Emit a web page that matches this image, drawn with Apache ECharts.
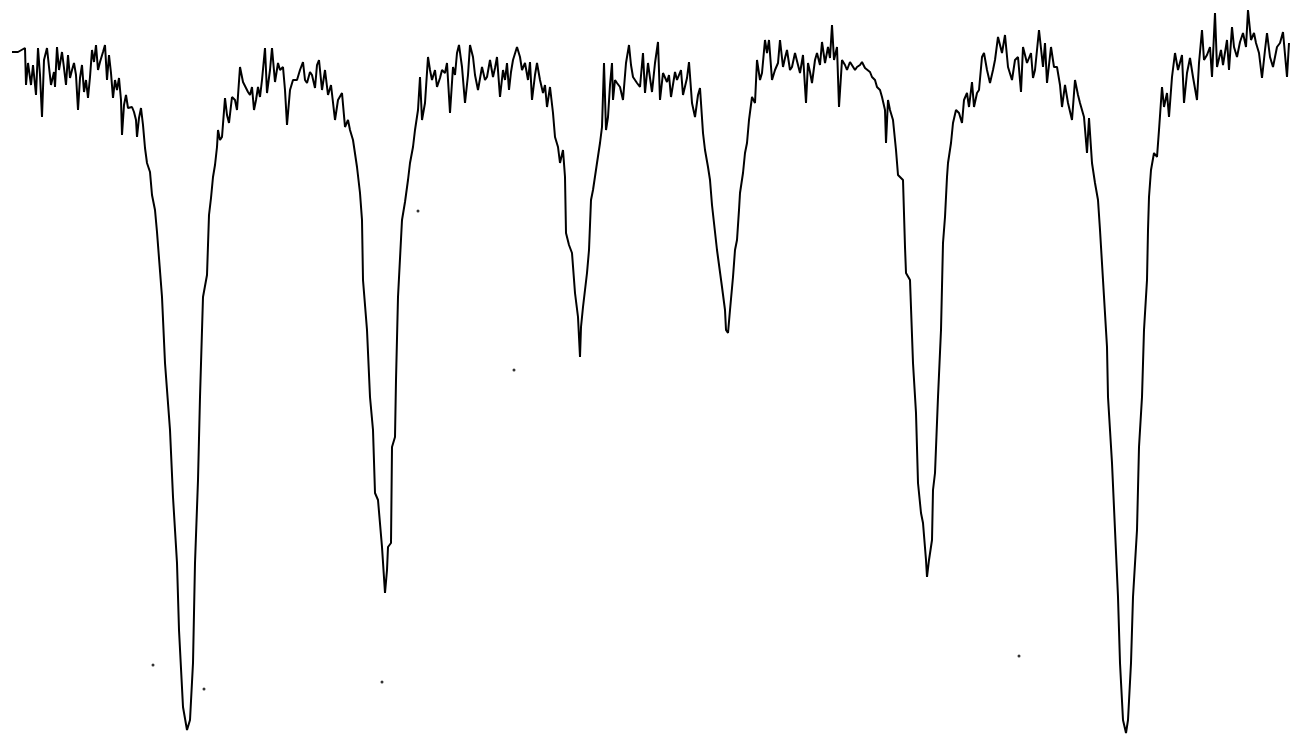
<!DOCTYPE html>
<html>
<head>
<meta charset="utf-8">
<script src="https://cdn.jsdelivr.net/npm/echarts@6/dist/echarts.min.js"></script>
<style>html,body{margin:0;padding:0;background:#fff;}#c{width:1290px;height:738px;}</style>
</head>
<body>
<div id="c"></div>
<script>
// Mössbauer-type sextet spectrum: channel vs absorption (larger = deeper)
const channel = [12,18,25,26,28,31,33,36,38,40,42,44,47,49,51,54,55,57,59,62,64,66,68,70,72,74,76,78,80,82,84,86,88,90,92,94,96,98,100,103,105,107,109,111,113,115,117,119,121,122,124,126,128,130,132,134,136,137,139,141,143,145,147,149,150,152,155,157,162,165,170,173,177,179,183,187,190,193,195,198,200,203,207,209,211,213,215,217,218,220,222,225,227,229,232,235,237,240,243,246,248,250,252,254,256,258,260,262,265,267,270,272,275,278,280,283,285,287,290,293,297,300,303,305,307,310,312,315,317,319,322,325,328,331,333,335,338,342,345,348,350,353,357,360,362,363,367,370,373,375,378,382,385,387,388,391,392,395,396,398,402,405,408,410,413,415,418,420,422,425,428,430,432,435,437,440,442,445,447,450,453,455,457,459,462,465,468,470,473,475,478,482,485,487,490,493,495,497,500,503,505,507,509,511,513,517,520,522,525,528,530,532,535,537,540,543,545,547,550,553,555,558,560,563,565,566,569,572,575,578,580,581,583,587,589,591,593,597,600,602,604,606,608,610,612,613,615,617,620,623,626,629,631,633,637,640,643,645,648,650,652,655,658,660,663,667,669,671,675,677,679,681,683,687,689,692,695,698,700,703,705,708,710,712,717,722,725,726,728,730,733,735,737,739,740,743,745,747,749,752,755,757,760,762,765,767,769,772,775,778,780,783,785,787,790,792,795,798,800,803,806,808,810,812,815,817,820,822,825,828,830,832,834,837,839,842,845,847,850,852,855,857,860,862,865,867,870,872,875,877,880,882,885,886,888,890,893,896,898,903,905,906,910,913,916,918,921,923,926,927,929,932,933,935,938,941,943,945,947,948,951,953,956,959,962,964,967,969,972,974,977,979,982,984,987,990,993,995,998,1002,1005,1008,1012,1015,1018,1021,1023,1027,1031,1033,1035,1039,1043,1045,1047,1051,1054,1057,1060,1062,1065,1068,1072,1075,1078,1080,1084,1087,1089,1092,1095,1098,1100,1103,1107,1108,1112,1115,1118,1120,1123,1126,1128,1131,1133,1137,1139,1142,1144,1147,1148,1149,1151,1154,1157,1159,1162,1164,1167,1169,1172,1175,1178,1182,1184,1187,1190,1193,1197,1199,1202,1204,1207,1210,1212,1215,1217,1221,1223,1227,1229,1232,1234,1237,1240,1243,1246,1248,1251,1254,1256,1259,1262,1265,1267,1270,1273,1277,1280,1283,1287,1289];
const absorption = [52,52,48,85,63,85,65,95,48,75,117,60,48,67,85,72,87,47,70,52,68,85,55,78,70,63,75,110,78,65,92,80,98,77,50,62,45,70,62,52,45,80,55,73,98,80,90,78,100,135,105,95,108,110,107,112,120,137,118,108,125,148,163,165,172,195,210,232,297,363,430,497,563,630,707,730,720,663,563,480,397,297,275,215,198,177,165,147,130,140,137,98,115,123,97,100,110,67,82,88,92,95,87,110,100,87,97,80,48,93,70,48,82,63,70,67,90,125,90,80,80,70,62,80,83,72,75,88,65,60,90,70,95,85,87,120,100,93,127,120,130,140,167,193,220,280,330,397,430,493,500,547,593,570,547,543,447,437,380,297,220,202,180,163,147,130,110,77,120,103,57,70,80,70,87,78,70,73,63,113,67,75,53,45,67,103,75,45,57,75,90,67,80,77,60,77,68,57,97,70,80,63,90,72,60,47,57,70,63,80,62,100,75,63,80,93,85,107,87,113,137,147,163,150,177,233,245,253,293,317,357,327,307,273,250,200,190,163,143,127,63,130,117,85,63,100,80,83,87,100,63,45,65,77,83,87,53,93,63,78,92,63,42,100,73,82,75,97,72,80,82,70,95,78,62,103,117,95,88,133,150,167,180,205,250,287,310,330,333,310,277,250,240,210,193,173,153,143,120,97,103,60,80,73,40,53,40,80,70,63,40,67,58,50,70,67,53,65,73,55,103,63,72,83,60,53,65,42,63,47,58,25,60,47,107,60,65,70,62,63,70,67,65,62,68,70,72,77,80,87,90,97,110,143,100,110,120,150,175,180,247,273,280,363,413,483,513,523,560,577,560,540,490,473,397,330,243,217,177,163,143,123,110,113,123,100,93,107,82,107,93,90,57,53,70,83,70,60,37,53,35,67,80,60,57,92,47,63,53,78,70,30,67,43,83,47,67,67,85,107,85,103,120,80,95,103,117,153,118,163,183,200,230,280,347,397,463,530,597,663,720,733,720,663,597,530,447,397,330,280,230,197,170,153,157,130,87,107,93,117,77,53,70,55,103,73,58,77,100,63,30,60,55,47,77,13,67,50,65,40,70,27,47,57,42,33,47,10,40,33,43,53,78,50,33,57,67,47,43,32,77,43];
// isolated specks on the sheet
const speckChannel = [153,204,382,418,514,1019];
const speckAbsorption = [665,689,682,211,370,656];

const chart = echarts.init(document.getElementById('c'), null, {renderer:'canvas'});
chart.setOption({
  animation: false,
  backgroundColor: '#ffffff',
  grid: {left: 0, right: 0, top: 0, bottom: 0},
  xAxis: {type: 'value', min: 0, max: 1290, show: false},
  yAxis: {type: 'value', min: 0, max: 738, inverse: true, show: false},
  series: [
    {
      type: 'line',
      data: channel.map((c, i) => [c, absorption[i]]),
      showSymbol: false,
      lineStyle: {color: '#000000', width: 2},
      itemStyle: {color: '#000000'}
    },
    {
      type: 'scatter',
      data: speckChannel.map((c, i) => [c, speckAbsorption[i]]),
      symbolSize: 3,
      itemStyle: {color: '#000000'}
    }
  ]
});
</script>
</body>
</html>
